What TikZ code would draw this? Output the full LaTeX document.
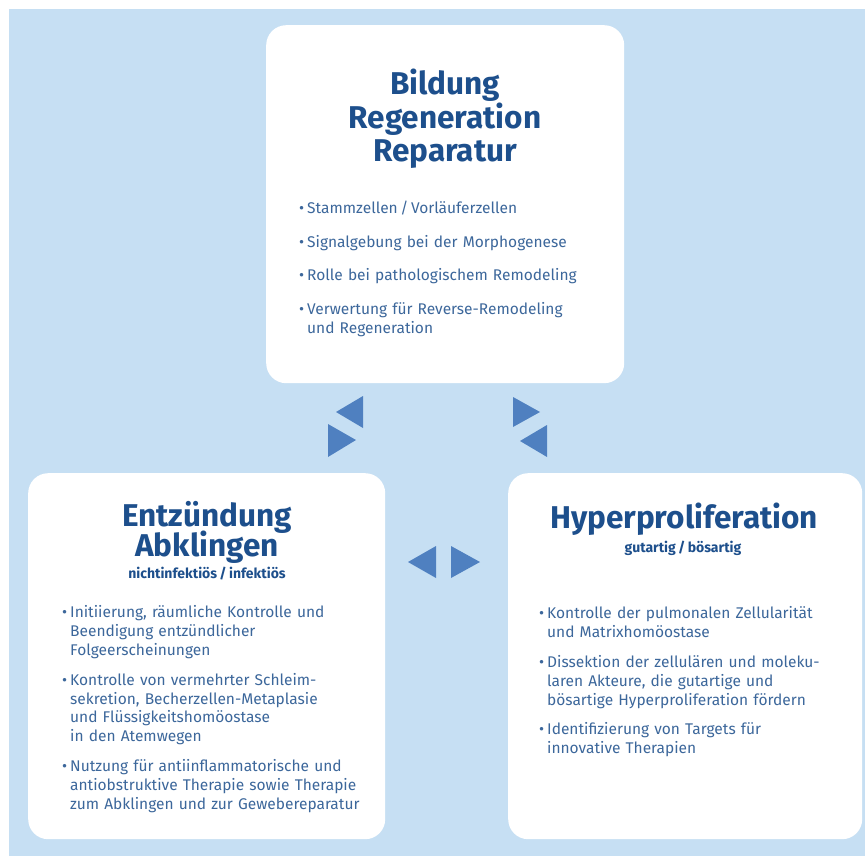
\documentclass[tikz,border=0pt]{standalone}
\usepackage{fontspec}
\setmainfont{Fira Sans}
\usepackage{tikz}

\definecolor{bgblue}{HTML}{C6DFF3}
\definecolor{tipblue}{HTML}{4F80C0}
\definecolor{headblue}{HTML}{1D4F8C}
\definecolor{bodyblue}{HTML}{3C679B}

\newlength{\itemgap}
\newcommand{\bul}{\par\leftskip=8pt\relax\noindent\llap{\makebox[8pt][l]{•}}}
\newcommand{\nextbul}{\par\vskip\itemgap\bul}

\begin{document}
\begin{tikzpicture} [
    x=1pt, y=-1pt,
    panel/.style = {rectangle, rounded corners=20pt, fill=white, inner sep=0pt, anchor=north west},
    head/.style = {inner sep=0pt, anchor=base, text=headblue,
        font=\bfseries\fontsize{31.5}{33}\selectfont},
    subhead/.style = {inner sep=0pt, anchor=base, text=headblue,
        font=\bfseries\fontsize{14}{16}\selectfont},
    body/.style = {inner sep=0pt, anchor=north west, text=bodyblue, align=left, text width=310pt},
    pointer/.style = {fill=tipblue}
]
    \useasboundingbox (0,0) rectangle (865,856);
    \fill[white] (0,0) rectangle (865,856);
    \fill[bgblue] (9,9) rectangle (865,856);

    % the three panels
    \node[panel, minimum width=358pt, minimum height=358pt] (bildung) at (266,25) {};
    \node[panel, minimum width=357pt, minimum height=366pt] (entz) at (28,473) {};
    \node[panel, minimum width=354pt, minimum height=366pt] (hyper) at (508,473) {};

    % top panel
    \node[head] (bildunghead) at (445,95) {Bildung};
    \node[head] (reghead) at (445,129) {Regeneration};
    \node[head] (rephead) at (445,162) {Reparatur};
    \node[body, font=\fontsize{15.5}{19}\selectfont\setlength{\itemgap}{14.5pt}]
        (bildungtext) at (299,194.7) {%
        \bul\strut Stammzellen\,/\,Vorläuferzellen
        \nextbul Signalgebung bei der Morphogenese
        \nextbul Rolle bei pathologischem Remodeling
        \nextbul Verwertung für Reverse-Remodeling\newline und Regeneration\par};

    % left panel
    \node[head] (entzhead) at (207,526) {Entzündung};
    \node[head] (abkhead) at (207,556) {Abklingen};
    \node[subhead] (entzsub) at (207,578) {nichtinfektiös\,/\,infektiös};
    \node[body, font=\fontsize{15.5}{18.8}\selectfont\setlength{\itemgap}{11pt}]
        (entztext) at (62,598.8) {%
        \bul\strut Initiierung, räumliche Kontrolle und\newline Beendigung entzündlicher\newline Folgeerscheinungen
        \nextbul Kontrolle von vermehrter Schleim-\newline sekretion, Becherzellen-Metaplasie\newline und Flüssigkeitshomöostase\newline in den Atemwegen
        \nextbul Nutzung für antiinflammatorische und\newline antiobstruktive Therapie sowie Therapie\newline zum Abklingen und zur Gewebereparatur\par};

    % right panel
    \node[head] (hyperhead) at (684,528) {Hyperproliferation};
    \node[subhead] (hypersub) at (683,552) {gutartig\,/\,bösartig};
    \node[body, font=\fontsize{15.5}{18.8}\selectfont\setlength{\itemgap}{11pt}]
        (hypertext) at (539,599.8) {%
        \bul\strut Kontrolle der pulmonalen Zellularität\newline und Matrixhomöostase
        \nextbul Dissektion der zellulären und moleku-\newline laren Akteure, die gutartige und\newline bösartige Hyperproliferation fördern
        \nextbul Identifizierung von Targets für\newline innovative Therapien\par};

    % exchange pointers
    \fill[pointer] (363,396) -- (363,428) -- (336,412) -- cycle;
    \fill[pointer] (328,424) -- (328,457) -- (356,440) -- cycle;
    \fill[pointer] (513,397) -- (513,427) -- (540,412) -- cycle;
    \fill[pointer] (547,425) -- (547,457) -- (520,441) -- cycle;
    \fill[pointer] (436,546) -- (436,578) -- (408,562) -- cycle;
    \fill[pointer] (451,546) -- (451,578) -- (480,562) -- cycle;
\end{tikzpicture}
\end{document}
